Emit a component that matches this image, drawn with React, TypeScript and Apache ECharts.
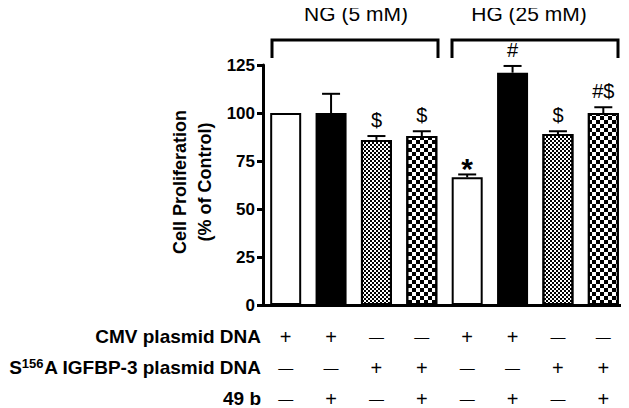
import React, { useEffect, useRef } from "react";
import * as echarts from "echarts";

const categories = [
  "NG CMV",
  "NG CMV + 49b",
  "NG S156A",
  "NG S156A + 49b",
  "HG CMV",
  "HG CMV + 49b",
  "HG S156A",
  "HG S156A + 49b",
];
const values = [100, 100, 86, 88, 66.5, 121, 89, 100];
const errors = [0, 10, 2, 2.5, 1.5, 3.5, 1.5, 3];
const marks = ["", "", "$", "$", "*", "#", "$", "#$"];
const fills = ["open", "solid", "fine", "coarse", "open", "solid", "fine", "coarse"];
const cmvRow = ["+", "+", "-", "-", "+", "+", "-", "-"];
const s156aRow = ["-", "-", "+", "+", "-", "-", "+", "+"];
const b49Row = ["-", "+", "-", "+", "-", "+", "-", "+"];
const rowLabels = ["CMV plasmid DNA", "S{sup|156}{n|A IGFBP-3 plasmid DNA}", "49 b"];
const groupLabels = ["NG (5 mM)", "HG (25 mM)"];
const yTitle = "Cell Proliferation\n(% of Control)";

const FONT = "'Liberation Sans', Arial, Helvetica, sans-serif";

function checker(cell: number) {
  return {
    symbol: "rect",
    symbolSize: 1,
    symbolKeepAspect: false,
    color: "#000",
    backgroundColor: "#fff",
    dashArrayX: [
      [cell, cell],
      [0, cell, cell, 0],
    ],
    dashArrayY: [cell, 0],
    rotation: 0,
  };
}

function itemFor(kind: string, v: number) {
  const base = { borderColor: "#000", borderWidth: 2 };
  if (kind === "open") return { value: v, itemStyle: { ...base, color: "#fff" } };
  if (kind === "solid") return { value: v, itemStyle: { ...base, color: "#000" } };
  if (kind === "fine")
    return { value: v, itemStyle: { ...base, color: "#fff", decal: checker(2) } };
  return { value: v, itemStyle: { ...base, color: "#fff", decal: checker(4) } };
}

const sym = (s: string) => (s === "+" ? "{p|+}" : "{m|—}");

export default function App() {
  const ref = useRef<HTMLDivElement>(null);
  useEffect(() => {
    if (!ref.current) return;
    const chart = echarts.init(ref.current, null, { renderer: "svg" });
    const option: any = {
      animation: false,
      backgroundColor: "#fff",
      grid: {
        left: 263,
        right: 3,
        top: 65,
        bottom: 103,
        containLabel: false,
        outerBoundsMode: "none",
      },
      xAxis: {
        type: "category",
        data: categories,
        axisLine: { lineStyle: { color: "#000", width: 3 } },
        axisTick: { alignWithLabel: true, length: 8, lineStyle: { color: "#000", width: 3 } },
        axisLabel: {
          interval: 0,
          margin: 16,
          color: "#000",
          fontFamily: FONT,
          lineHeight: 31,
          formatter: (_v: string, i: number) =>
            `${sym(cmvRow[i])}\n${sym(s156aRow[i])}\n${sym(b49Row[i])}`,
          rich: {
            p: { fontSize: 20, fontFamily: FONT, color: "#000", lineHeight: 31 },
            m: { fontSize: 15, fontFamily: FONT, color: "#000", lineHeight: 31 },
          },
        },
      },
      yAxis: {
        type: "value",
        min: 0,
        max: 125,
        interval: 25,
        splitLine: { show: false },
        axisLine: { show: true, lineStyle: { color: "#000", width: 3 } },
        axisTick: { show: true, length: 6, lineStyle: { color: "#000", width: 3 } },
        axisLabel: {
          margin: 8,
          color: "#000",
          fontFamily: FONT,
          fontWeight: "bold",
          fontSize: 17,
        },
      },
      series: [
        {
          type: "bar",
          barWidth: 31,
          data: values.map((v, i) => itemFor(fills[i], v)),
          z: 2,
        },
        {
          type: "custom",
          z: 3,
          data: values.map((v, i) => [i, v, errors[i], marks[i]]),
          renderItem: (params: any, api: any) => {
            const i = api.value(0);
            const v = api.value(1);
            const e = api.value(2);
            const mark = marks[params.dataIndex];
            const base = api.coord([i, v]);
            const top = api.coord([i, v + e]);
            const children: any[] = [];
            if (e > 0) {
              children.push({
                type: "line",
                shape: { x1: base[0], y1: base[1], x2: top[0], y2: top[1] },
                style: { stroke: "#000", lineWidth: 2 },
              });
              children.push({
                type: "line",
                shape: { x1: top[0] - 9, y1: top[1], x2: top[0] + 9, y2: top[1] },
                style: { stroke: "#000", lineWidth: 2 },
              });
            }
            if (mark) {
              const star = mark === "*";
              children.push({
                type: "text",
                x: top[0],
                y: star ? top[1] - 6 : top[1] - 16,
                style: {
                  text: mark,
                  align: "center",
                  verticalAlign: "middle",
                  fontFamily: FONT,
                  fontSize: star ? 30 : 20,
                  fontWeight: star ? "bold" : "normal",
                  fill: "#000",
                },
              });
            }
            return { type: "group", children };
          },
        },
      ],
      graphic: [
        {
          type: "polyline",
          shape: { points: [[272, 58], [272, 40], [438, 40], [438, 58]] },
          style: { stroke: "#000", lineWidth: 3, fill: null },
        },
        {
          type: "polyline",
          shape: { points: [[452, 58], [452, 40], [618, 40], [618, 58]] },
          style: { stroke: "#000", lineWidth: 3, fill: null },
        },
        {
          type: "text",
          x: 356,
          y: 13,
          style: {
            text: groupLabels[0],
            align: "center",
            verticalAlign: "middle",
            fontFamily: FONT,
            fontSize: 21,
            fill: "#000",
          },
        },
        {
          type: "text",
          x: 529,
          y: 13,
          style: {
            text: groupLabels[1],
            align: "center",
            verticalAlign: "middle",
            fontFamily: FONT,
            fontSize: 21,
            fill: "#000",
          },
        },
        {
          type: "text",
          x: 192,
          y: 182,
          rotation: Math.PI / 2,
          style: {
            text: yTitle,
            align: "center",
            verticalAlign: "middle",
            fontFamily: FONT,
            fontSize: 18,
            fontWeight: "bold",
            lineHeight: 25,
            fill: "#000",
          },
        },
        ...rowLabels.map((t, k) => ({
          type: "text",
          x: 261,
          y: 336 + 31 * k,
          style: {
            text: k === 1 ? t : `{n|${t}}`,
            align: "right",
            verticalAlign: "middle",
            fontFamily: FONT,
            fontSize: 19,
            fontWeight: "bold",
            fill: "#000",
            rich: {
              n: { fontFamily: FONT, fontSize: 19, fontWeight: "bold", fill: "#000", lineHeight: 20 },
              sup: {
                fontFamily: FONT,
                fontSize: 13,
                fontWeight: "bold",
                fill: "#000",
                verticalAlign: "top",
                lineHeight: 13,
              },
            },
          },
        })),
      ],
    };
    chart.setOption(option);
    return () => chart.dispose();
  }, []);
  return <div ref={ref} style={{ width: 629, height: 408, marginLeft: -8, marginTop: -8 }} />;
}
